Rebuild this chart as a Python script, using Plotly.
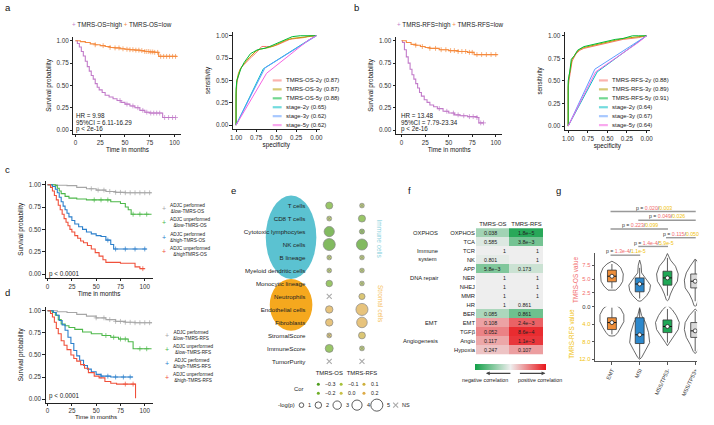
import numpy as np
import plotly.graph_objects as go

W, H = 714, 425
FONT = "Liberation Sans, Arial, sans-serif"


def PX(x):
    return x / W


def PY(y):
    return 1 - y / H


# ======================= DATA =======================
# --- a: Kaplan-Meier, TMRS-OS ---
a_high_time = [0, 2, 4, 6, 8, 10, 12, 14, 16, 18, 20, 22, 24, 27, 30, 34, 38, 42, 46, 50, 55, 60, 65, 70, 75, 80, 88, 101]
a_high_surv = [1, .97, .93, .88, .83, .77, .71, .66, .61, .57, .52, .48, .45, .42, .39, .37, .35, .33, .31, .29, .27, .25, .22, .20, .19, .19, .14, .14]
a_high_cens = [45, 52, 58, 63, 68, 72, 76, 79, 82, 85, 90, 94, 98, 101]
a_low_time = [0, 5, 10, 15, 20, 25, 30, 35, 40, 45, 50, 55, 60, 65, 70, 75, 80, 84, 102]
a_low_surv = [1, .99, .98, .965, .955, .945, .935, .925, .92, .91, .905, .9, .895, .89, .88, .875, .87, .825, .82]
a_low_cens = [20, 28, 35, 40, 44, 48, 52, 55, 58, 61, 64, 67, 70, 72, 74, 76, 78, 80, 83, 86, 89, 92, 95, 98, 101]
a_stats = ["HR = 9.98", "95%CI = 6.11-16.29", "p < 2e-16"]

# --- a: ROC ---
roc_a_labels = ["TMRS-OS-2y (0.87)", "TMRS-OS-3y (0.87)", "TMRS-OS-5y (0.88)",
                "stage-2y (0.65)", "stage-3y (0.62)", "stage-5y (0.62)"]
roc_a_spec = [
    [1, 1, .99, .97, .95, .92, .88, .84, .80, .76, .72, .68, .62, .55, .48, .40, .33, .25, .15, .08, 0],
    [1, 1, .99, .97, .94, .91, .87, .83, .79, .75, .70, .64, .58, .52, .45, .38, .30, .22, .12, .05, 0],
    [1, 1, .99, .97, .94, .90, .86, .82, .78, .74, .70, .64, .58, .50, .44, .36, .30, .20, .10, .05, 0],
    [1, .66, .08, 0],
    [1, .64, .05, 0],
    [1, .62, .10, 0],
]
roc_a_sens = [
    [0, .25, .48, .55, .62, .66, .70, .74, .77, .80, .84, .88, .88, .88, .90, .93, .96, .97, .98, 1, 1],
    [0, .35, .50, .58, .64, .68, .72, .76, .80, .83, .85, .86, .87, .89, .92, .95, .97, .98, .99, 1, 1],
    [0, .40, .50, .56, .63, .70, .75, .80, .82, .84, .85, .86, .88, .91, .94, .97, .99, 1, 1, 1, 1],
    [0, .63, .96, 1],
    [0, .64, .97, 1],
    [0, .58, .95, 1],
]

# --- b: Kaplan-Meier, TMRS-RFS ---
b_high_time = [0, 1, 3, 5, 7, 9, 11, 13, 15, 17, 19, 21, 24, 27, 30, 34, 38, 44, 50, 56, 62, 70, 80, 82, 87]
b_high_surv = [1, .98, .90, .82, .75, .68, .62, .57, .52, .47, .42, .38, .34, .31, .28, .26, .24, .21, .19, .17, .16, .15, .14, .08, .08]
b_high_cens = [40, 48, 55, 60, 66, 72, 76, 80, 84, 87]
b_low_time = [0, 5, 10, 15, 20, 25, 30, 40, 50, 60, 70, 77, 102]
b_low_surv = [1, .98, .96, .95, .935, .925, .915, .90, .89, .88, .87, .845, .845]
b_low_cens = [15, 22, 30, 36, 42, 47, 52, 56, 60, 64, 68, 72, 75, 80, 85, 90, 95, 100]
b_stats = ["HR = 13.48", "95%CI = 7.79-23.34", "p < 2e-16"]

# --- b: ROC ---
roc_b_labels = ["TMRS-RFS-2y (0.88)", "TMRS-RFS-3y (0.89)", "TMRS-RFS-5y (0.91)",
                "stage-2y (0.64)", "stage-3y (0.67)", "stage-5y (0.64)"]
roc_b_spec = [
    [1, 1, .99, .97, .95, .90, .85, .80, .70, .60, .50, .40, .30, .20, .10, 0],
    [1, 1, .99, .97, .95, .90, .85, .80, .70, .60, .50, .40, .30, .20, .10, 0],
    [1, 1, .98, .96, .92, .88, .80, .70, .60, .50, .40, .30, .22, .18, .10, 0],
    [1, .63, 0],
    [1, .66, 0],
    [1, .65, .10, 0],
]
roc_b_sens = [
    [0, .42, .50, .60, .72, .80, .84, .86, .88, .90, .92, .94, .96, .97, .98, 1],
    [0, .45, .55, .65, .74, .81, .85, .87, .89, .91, .93, .95, .97, .98, .99, 1],
    [0, .50, .60, .74, .78, .84, .88, .90, .92, .94, .96, .97, .99, 1, 1, 1],
    [0, .60, 1],
    [0, .63, 1],
    [0, .60, .93, 1],
]

# --- c / d: KM by ADJC x TMRS ---
c_labels = ["ADJC performed<br>&low-TMRS-OS", "ADJC unperformed<br>&low-TMRS-OS",
            "ADJC performed<br>&high-TMRS-OS", "ADJC unperformed<br>&highTMRS-OS"]
c_time = [
    [0, 10, 20, 30, 40, 50, 60, 70, 80, 107],
    [0, 8, 10, 12, 14, 18, 22, 30, 40, 60, 65, 75, 80, 83, 86, 107],
    [0, 5, 8, 10, 12, 14, 16, 18, 20, 22, 25, 28, 32, 36, 40, 45, 50, 55, 60, 65, 68, 102],
    [0, 3, 5, 7, 9, 11, 13, 15, 17, 19, 21, 23, 25, 28, 31, 34, 37, 41, 45, 49, 53, 57, 60, 70, 75, 90, 95, 100],
]
c_surv = [
    [1, .995, .99, .97, .955, .94, .925, .915, .91, .91],
    [1, .99, .96, .93, .90, .87, .85, .84, .83, .83, .81, .79, .75, .72, .67, .67],
    [1, .98, .95, .91, .86, .81, .76, .72, .68, .64, .60, .56, .53, .50, .47, .45, .43, .42, .38, .33, .28, .28],
    [1, .97, .93, .88, .83, .77, .72, .67, .62, .58, .54, .50, .47, .43, .40, .37, .35, .32, .28, .24, .20, .16, .13, .13, .12, .08, .06, .06],
]
c_cens = [
    [45, 52, 58, 64, 70, 75, 80, 85, 90, 95, 100, 105],
    [48, 55, 62, 88, 95, 102],
    [62, 70, 80, 90, 100],
    [98],
]
d_labels = ["ADJC performed<br>&low-TMRS-RFS", "ADJC unperformed<br>&low-TMRS-RFS",
            "ADJC performed<br>&high-TMRS-RFS", "ADJC unperformed<br>&high-TMRS-RFS"]
d_time = [
    [0, 10, 20, 30, 40, 50, 60, 70, 80, 90, 107],
    [0, 5, 8, 11, 14, 18, 22, 28, 36, 45, 56, 65, 73, 83, 88, 107],
    [0, 6, 9, 12, 15, 18, 21, 24, 27, 30, 33, 37, 41, 45, 50, 55, 65, 88],
    [0, 3, 5, 7, 9, 11, 14, 17, 20, 24, 27, 30, 34, 38, 42, 48, 53, 59, 65, 71, 90, 90.5],
]
d_surv = [
    [1, .99, .98, .96, .94, .92, .90, .88, .87, .865, .86],
    [1, .98, .95, .90, .85, .83, .81, .79, .76, .74, .72, .70, .68, .65, .57, .57],
    [1, .98, .95, .89, .84, .78, .70, .63, .55, .49, .44, .38, .34, .31, .28, .26, .25, .25],
    [1, .97, .93, .87, .80, .74, .66, .61, .56, .50, .46, .43, .39, .35, .30, .26, .24, .20, .18, .17, .17, .01],
]
d_cens = [
    [50, 58, 64, 70, 75, 80, 85, 90, 95, 100, 105],
    [60, 68, 75, 80, 95, 102],
    [55, 62, 70, 78, 85],
    [80, 88],
]
km_colors = ["#A6A6A6", "#4DB84A", "#2B7FCB", "#F0503A"]

# --- e: bubble plot ---
cells = ["T cells", "CD8 T cells", "Cytotoxic lymphocytes", "NK cells", "B lineage",
         "Myeloid dendritic cells", "Monocytic lineage", "Neutrophils", "Endothelial cells",
         "Fibroblasts", "StromalScore", "ImmuneScore", "TumorPurity"]
e_groups = ["TMRS-OS", "TMRS-RFS"]
os_cor = [-0.2, -0.1, -0.3, -0.3, -0.1, -0.1, -0.2, 0.0, 0.2, 0.2, 0.1, -0.2, 0.0]
os_lp = [2.3, 1.1, 4.0, 5.0, 1.0, 1.0, 2.0, 0, 2.5, 2.5, 1.1, 2.8, 0]
os_ns = [0, 0, 0, 0, 0, 0, 0, 1, 0, 0, 0, 0, 1]
rfs_cor = [-0.1, -0.2, -0.2, -0.3, -0.1, -0.1, -0.1, 0.1, 0.2, 0.2, 0.1, -0.1, 0.0]
rfs_lp = [1.0, 2.3, 1.25, 4.5, 1.0, 1.0, 1.0, 1.8, 5.0, 4.2, 2.2, 1.1, 0]
rfs_ns = [0, 0, 0, 0, 0, 0, 0, 0, 0, 0, 0, 0, 1]
cor_legend_vals = [[-0.3, -0.1, 0.1], [-0.2, 0.0, 0.2]]
lp_legend_vals = [1, 2, 3, 4, 5]

# --- f: heatmap ---
pathways = ["OXPHOS", "TCA", "TCR", "NK", "APP", "NER", "NHEJ", "MMR", "HR", "BER",
            "EMT", "TGFβ", "Angio", "Hypoxia"]
f_cols = ["TMRS-OS", "TMRS-RFS"]
f_os_p = ["0.038", "0.585", "1", "0.801", "5.8e-3", "1", "1", "1", "1", "0.085",
          "0.108", "0.052", "0.117", "0.247"]
f_rfs_p = ["1.8e-5", "3.8e-3", "1", "1", "0.173", "1", "1", "1", "0.861", "0.861",
           "2.4e-3", "8.6e-4", "1.1e-3", "0.107"]
f_os_cor = [-0.35, -0.08, 0, -0.04, -0.5, 0, 0, 0, 0, -0.3, 0.35, 0.5, 0.33, 0.2]
f_rfs_cor = [-0.9, -0.55, 0, 0, -0.16, 0, 0, 0, -0.02, -0.58, 0.65, 0.9, 0.85, 0.37]
f_groups = [("OXPHOS", "OXPHOS"), ("Immune<br>system", 2.5), ("DNA repair", "NER"),
            ("EMT", "EMT"), ("Angiogenesis", "Angio")]

# --- g: violins ---
g_cats = ["EMT", "MSI", "MSS/TP53-", "MSS/TP53+"]
g_fill = ["#EE8E3A", "#2D88CC", "#1FA856", "#D9D9D9"]
# TMRS-OS violin outline: values and half widths (in category units)
os_vals = [
    [8.2, 7.7, 7.0, 5.9, 4.6, 3.75, 3.0, 2.95],
    [8.4, 7.5, 6.1, 5.2, 3.9, 2.9, 2.0, 1.1, 1.0],
    [9.6, 9.0, 8.4, 7.3, 5.9, 4.6, 3.4, 2.3, 1.25, 1.1],
    [8.6, 8.2, 7.3, 6.1, 4.8, 3.4, 2.3, 1.25, 0.2, 0.1],
]
os_hw = [
    [0, .18, .32, .41, .39, .29, .14, 0],
    [0, .05, .07, .21, .39, .36, .25, .07, 0],
    [0, .05, .11, .29, .39, .36, .21, .11, .04, 0],
    [0, .07, .18, .32, .39, .36, .21, .11, .04, 0],
]
os_box = [  # whisker low, q1, median, q3, whisker high
    [3.3, 4.5, 5.5, 6.6, 7.7],
    [1.5, 2.7, 4.1, 5.2, 7.0],
    [2.0, 3.9, 5.2, 6.4, 8.8],
    [1.0, 3.4, 4.6, 5.9, 8.4],
]
rfs_vals = [
    [-0.6, -0.45, 0.45, 1.8, 3.4, 4.8, 5.9, 6.6, 6.7],
    [0.2, 1.0, 2.0, 3.6, 5.9, 8.2, 10.0, 11.6, 12.0],
    [-0.4, -0.2, 0.7, 2.0, 3.6, 5.2, 7.0, 8.2, 8.9],
    [0.5, 0.7, 2.0, 3.6, 5.2, 7.0, 8.6, 10.2, 10.7],
]
rfs_hw = [
    [0, .14, .32, .43, .43, .32, .21, .11, 0],
    [0, .04, .07, .21, .32, .36, .21, .07, 0],
    [0, .04, .18, .32, .43, .39, .21, .07, 0],
    [0, .04, .21, .36, .39, .32, .18, .07, 0],
]
rfs_box = [
    [0.2, 2.5, 3.6, 5.2, 6.3],
    [0.5, 2.5, 6.4, 8.4, 11.8],
    [0.5, 3.0, 4.5, 5.9, 8.2],
    [1.0, 3.6, 5.5, 7.0, 10.2],
]
g_pairs = [(0, 3, "0.020", "0.003"), (1, 3, "0.049", "0.026"), (0, 2, "0.223", "0.099"),
           (2, 3, "0.115", "0.050"), (1, 2, "1.4e-4", "5.9e-5"), (0, 1, "1.3e-4", "1.1e-5")]

RED_T = "#F26C6C"
YEL_T = "#F0C10C"
ROC_COLORS = ["#F8766D", "#B79F00", "#00BA38", "#00BFC4", "#619CFF", "#F564E3"]
KM_HIGH = "#C27BC9"
KM_LOW = "#F58B3F"

traces = []
annotations = []
shapes = []


def ann(x, y, text, size=6.3, color="#222", xanchor="center", yanchor="middle", xref="paper", yref="paper", **kw):
    d = dict(x=x, y=y, text=text, showarrow=False, xref=xref, yref=yref, xanchor=xanchor,
             yanchor=yanchor, font=dict(size=size, color=color, family=FONT))
    d.update(kw)
    annotations.append(d)


def km(t, s, cens, color, xa, ya):
    traces.append(go.Scatter(x=t, y=s, mode="lines", line=dict(shape="hv", color=color, width=1.1),
                             xaxis=xa, yaxis=ya, hoverinfo="skip"))
    if cens:
        ta = np.array(t)
        cy = [s[int(np.searchsorted(ta, c, side="right")) - 1] for c in cens]
        traces.append(go.Scatter(x=cens, y=cy, mode="markers",
                                 marker=dict(symbol="cross-thin", size=3.5, line=dict(color=color, width=0.7)),
                                 xaxis=xa, yaxis=ya, hoverinfo="skip"))


# ---- a & b KM ----
km(a_high_time, a_high_surv, a_high_cens, KM_HIGH, "x", "y")
km(a_low_time, a_low_surv, a_low_cens, KM_LOW, "x", "y")
km(b_high_time, b_high_surv, b_high_cens, KM_HIGH, "x3", "y3")
km(b_low_time, b_low_surv, b_low_cens, KM_LOW, "x3", "y3")
for i, s in enumerate(a_stats):
    ann(-1, 0.167 - i * 0.078, s, xanchor="left", xref="x", yref="y")
for i, s in enumerate(b_stats):
    ann(-3, 0.167 - i * 0.078, s, xanchor="left", xref="x3", yref="y3")
ann(PX(120), PY(25), f"<span style='color:{KM_HIGH}'>+</span> TMRS-OS=high <span style='color:{KM_LOW}'>+</span> TMRS-OS=low")
ann(PX(451), PY(25), f"<span style='color:{KM_HIGH}'>+</span> TMRS-RFS=high <span style='color:{KM_LOW}'>+</span> TMRS-RFS=low")

# ---- ROC ----
for k in range(6):
    traces.append(go.Scatter(x=roc_a_spec[k], y=roc_a_sens[k], mode="lines",
                             line=dict(color=ROC_COLORS[k], width=1), xaxis="x2", yaxis="y2", hoverinfo="skip"))
    traces.append(go.Scatter(x=roc_b_spec[k], y=roc_b_sens[k], mode="lines",
                             line=dict(color=ROC_COLORS[k], width=1), xaxis="x4", yaxis="y4", hoverinfo="skip"))
for k in range(6):
    yy = 81 + k * 9
    for (lx0, lab) in ((272, roc_a_labels[k]), (601, roc_b_labels[k])):
        shapes.append(dict(type="line", xref="paper", yref="paper", x0=PX(lx0), x1=PX(lx0 + 9),
                           y0=PY(yy), y1=PY(yy), line=dict(color=ROC_COLORS[k], width=2.2), opacity=0.55))
        ann(PX(lx0 + 11), PY(yy), lab, size=6.0, xanchor="left")

# ---- c / d ----
for k in range(4):
    km(c_time[k], c_surv[k], c_cens[k], km_colors[k], "x5", "y5")
    km(d_time[k], d_surv[k], d_cens[k], km_colors[k], "x6", "y6")
for k in range(4):
    yc = 210 + k * 14.5
    ann(PX(162), PY(yc), "+", size=7, color=km_colors[k])
    ann(PX(166), PY(yc), c_labels[k], size=4.7, xanchor="left", align="center")
    yd = 337.5 + k * 14.3
    ann(PX(165), PY(yd), "+", size=7, color=km_colors[k])
    ann(PX(169), PY(yd), d_labels[k], size=4.7, xanchor="left", align="center")
ann(-0.5, 0.005, "p < 0.0001", xanchor="left", xref="x5", yref="y5")
ann(-0.5, 0.03, "p < 0.0001", xanchor="left", xref="x6", yref="y6")
ann(50, PY(424.3), "Time in months", size=6.2, xref="x6", color="#111", yanchor="bottom", borderpad=0)


# ---- e: bubbles ----
E_SCALE = [[0, "#4E9D1E"], [0.2, "#6FAE27"], [0.4, "#A6C13A"], [0.6, "#C9C046"], [0.8, "#CDAF3A"], [1, "#DDAA45"]]


def lp_size(v):
    return 2.8 + 1.85 * v


for gi, (cor, lp, ns) in enumerate(((os_cor, os_lp, os_ns), (rfs_cor, rfs_lp, rfs_ns))):
    xs_sig, ys_sig, c_sig, s_sig, sym = [], [], [], [], []
    xs_ns, ys_ns = [], []
    for i, cell in enumerate(cells):
        if ns[i]:
            xs_ns.append(e_groups[gi]); ys_ns.append(cell)
        else:
            xs_sig.append(e_groups[gi]); ys_sig.append(cell)
            c_sig.append(cor[i]); s_sig.append(lp_size(lp[i]))
            sym.append("circle-x" if lp[i] < 1.3 else "circle")
    traces.append(go.Scatter(x=xs_sig, y=ys_sig, mode="markers", xaxis="x7", yaxis="y7", hoverinfo="skip",
                             marker=dict(color=c_sig, colorscale=E_SCALE, cmin=-0.3, cmax=0.2, size=s_sig,
                                         symbol=sym, line=dict(color="#555", width=0.7))))
    traces.append(go.Scatter(x=xs_ns, y=ys_ns, mode="markers", xaxis="x7", yaxis="y7", hoverinfo="skip",
                             marker=dict(symbol="x-thin", size=5, line=dict(color="#AAAAAA", width=1.1))))

# ellipses
shapes.append(dict(type="circle", xref="paper", yref="paper", x0=PX(265), x1=PX(316), y0=PY(281), y1=PY(197),
                   fillcolor="#5BC2D1", line=dict(width=0), layer="below"))
shapes.append(dict(type="circle", xref="paper", yref="paper", x0=PX(269), x1=PX(312), y0=PY(333), y1=PY(281),
                   fillcolor="#F5A81E", line=dict(width=0), layer="below"))
ann(PX(380), PY(241), "Immune cells", size=6.5, color="#8DD3E0", textangle=90)
ann(PX(380), PY(306), "Stromal cells", size=6.5, color="#F6C25E", textangle=90)

# cor legend (overlay canvas x11/y11)
ann(PX(305), PY(391.5), "Cor", size=5.8, xanchor="right")
for r, row in enumerate(cor_legend_vals):
    for cidx, v in enumerate(row):
        xx = 318 + cidx * 23
        yy = 387 + r * 9
        traces.append(go.Scatter(x=[xx], y=[yy], mode="markers", xaxis="x11", yaxis="y11", hoverinfo="skip",
                                 marker=dict(size=3, color=[v], colorscale=E_SCALE, cmin=-0.3, cmax=0.2,
                                             line=dict(width=0))))
        ann(PX(xx + 5), PY(yy), ("−" if v < 0 else "") + f"{abs(v):.1f}", size=5.3, xanchor="left")
ann(PX(296), PY(408), "-log(p)", size=5.8, xanchor="right")
lx = [301, 318, 337, 357, 377]
for v, xx in zip(lp_legend_vals, lx):
    traces.append(go.Scatter(x=[xx], y=[408], mode="markers", xaxis="x11", yaxis="y11", hoverinfo="skip",
                             marker=dict(size=lp_size(v), color="white", line=dict(color="#333", width=0.8))))
    ann(PX(xx + lp_size(v) / 2 + 2.5), PY(408), str(v), size=5.5, xanchor="left")
traces.append(go.Scatter(x=[396], y=[408], mode="markers", xaxis="x11", yaxis="y11", hoverinfo="skip",
                         marker=dict(symbol="x-thin", size=5, line=dict(color="#AAAAAA", width=1.1))))
ann(PX(400), PY(408), "NS", size=5.5, xanchor="left")

# ---- f: heatmap ----
zf = [[f_os_cor[i], f_rfs_cor[i]] for i in range(len(pathways))]
traces.append(go.Heatmap(z=zf, x=f_cols, y=pathways, xaxis="x8", yaxis="y8", zmin=-1, zmax=1,
                         colorscale=[[0, "#12A048"], [0.5, "#EEEEEE"], [1, "#E8161B"]], hoverinfo="skip",
                         colorbar=dict(orientation="h", x=PX(512), xanchor="center", y=PY(369.5), yanchor="middle",
                                       len=71, lenmode="pixels", thickness=6, thicknessmode="pixels",
                                       showticklabels=False, ticks="", outlinewidth=0, xpad=0, ypad=0)))
for i, pw in enumerate(pathways):
    for j, txt in enumerate((f_os_p[i], f_rfs_p[i])):
        if txt == "1":
            ann(j + 0.5, pw, txt, size=5.3, xanchor="right", xref="x8", yref="y8", xshift=-2)
        else:
            ann(j - 0.5, pw, txt.replace("-", "−"), size=5.3, xanchor="left", xref="x8", yref="y8", xshift=6)
for lab, ypos in f_groups:
    ann(PX(441), ypos, lab, size=5.8, xanchor="right", yref="y8", align="center")
annotations.append(dict(x=PX(487), y=PY(376), xref="paper", yref="paper", ax=26, ay=0, text="", showarrow=True,
                        arrowhead=2, arrowsize=0.7, arrowwidth=1.1, arrowcolor="#444"))
annotations.append(dict(x=PX(547), y=PY(376), xref="paper", yref="paper", ax=-27, ay=0, text="", showarrow=True,
                        arrowhead=2, arrowsize=0.7, arrowwidth=1.1, arrowcolor="#444"))
ann(PX(486), PY(382.5), "negative correlation", size=5.3)
ann(PX(542), PY(382.5), "positive correlation", size=5.3)


# ---- g: violins ----
def violin(vals, hw, box, cidx, ya):
    c = cidx
    xs = [c + h for h in hw] + [c - h for h in hw[::-1]]
    ys = list(vals) + list(vals[::-1])
    traces.append(go.Scatter(x=xs, y=ys, mode="lines", fill="toself", fillcolor="white",
                             line=dict(color="#444", width=0.8), xaxis="x9", yaxis=ya, hoverinfo="skip"))
    wl, q1, md, q3, wh = box
    traces.append(go.Scatter(x=[c, c, None, c, c], y=[wl, q1, None, q3, wh], mode="lines",
                             line=dict(color="#333", width=0.8), xaxis="x9", yaxis=ya, hoverinfo="skip"))
    bw = 0.16
    traces.append(go.Scatter(x=[c - bw, c + bw, c + bw, c - bw, c - bw], y=[q1, q1, q3, q3, q1], mode="lines",
                             fill="toself", fillcolor=g_fill[cidx], line=dict(color="#333", width=0.8),
                             xaxis="x9", yaxis=ya, hoverinfo="skip"))
    traces.append(go.Scatter(x=[c - bw, c + bw], y=[md, md], mode="lines", line=dict(color="#111", width=1),
                             xaxis="x9", yaxis=ya, hoverinfo="skip"))
    traces.append(go.Scatter(x=[c], y=[md], mode="markers", xaxis="x9", yaxis=ya, hoverinfo="skip",
                             marker=dict(size=4, color="white", line=dict(color="#222", width=0.8))))


for k in range(4):
    violin(os_vals[k], os_hw[k], os_box[k], k, "y9")
    violin(rfs_vals[k], rfs_hw[k], rfs_box[k], k, "y10")

for lvl, (i0, i1, p1, p2) in enumerate(g_pairs):
    yy = 213 + lvl * 8.8
    shapes.append(dict(type="line", xref="x9", yref="paper", x0=i0 - 0.05, x1=i1 + 0.02, y0=PY(yy), y1=PY(yy),
                       line=dict(color="#999999", width=1.4)))
    ann((i0 + i1) / 2, PY(yy - 3.8), f"p = <span style='color:{RED_T}'>{p1}</span>/<span style='color:{YEL_T}'>{p2}</span>",
        size=5.2, xref="x9", color="#333")

# ---- panel letters ----
for L, x, y in (("a", 5, 8), ("b", 356, 8), ("c", 5, 171), ("d", 5, 295), ("e", 232, 192), ("f", 410, 192), ("g", 560, 192)):
    ann(PX(x), PY(y), L, size=9.5, color="#111")

# ======================= LAYOUT =======================
BASE = dict(showline=True, linecolor="#222", linewidth=0.8, ticks="outside", ticklen=2.5, tickwidth=0.8,
            tickcolor="#222", showgrid=False, zeroline=False, tickfont=dict(size=6.3, color="#333", family=FONT))


def axis(domain, rng, anchor, tickvals=None, ticktext=None, title=None, standoff=3, tcolor="#111", **kw):
    d = dict(BASE)
    d.update(domain=domain, range=rng, anchor=anchor)
    if tickvals is not None:
        d.update(tickmode="array", tickvals=tickvals)
    if ticktext is not None:
        d["ticktext"] = ticktext
    if title:
        d["title"] = dict(text=title, font=dict(size=6.3, color=tcolor, family=FONT), standoff=standoff)
    d.update(kw)
    return d


surv_ticks = [0, .25, .5, .75, 1]
surv_txt = ["0.00", "0.25", "0.50", "0.75", "1.00"]
t_ticks = [0, 25, 50, 75, 100]
roc_ticks = [1, .75, .5, .25, 0]
roc_txt = ["1.00", "0.75", "0.50", "0.25", "0.00"]

layout = dict(
    width=W, height=H, autosize=False, margin=dict(l=0, r=0, t=0, b=0),
    paper_bgcolor="white", plot_bgcolor="rgba(0,0,0,0)", showlegend=False,
    font=dict(family=FONT, size=6.3, color="#222"),
    xaxis=axis([PX(71), PX(180)], [-2, 107], "y", t_ticks, None, "Time in months", 1),
    yaxis=axis([PY(135), PY(37)], [-0.045, 1.045], "x", surv_ticks, surv_txt, "Survival probability", 4),
    xaxis2=axis([PX(231.8), PX(319.2)], [1.04, -0.04], "y2", roc_ticks, roc_txt, "specificity", 1),
    yaxis2=axis([PY(129.6), PY(32.4)], [-0.04, 1.04], "x2", roc_ticks, roc_txt, "sensitivity", 4),
    xaxis3=axis([PX(396.3), PX(503.6)], [-6, 107], "y3", t_ticks, None, "Time in months", 1),
    yaxis3=axis([PY(135), PY(37)], [-0.045, 1.045], "x3", surv_ticks, surv_txt, "Survival probability", 4),
    xaxis4=axis([PX(566.8), PX(652.2)], [1.04, -0.04], "y4", roc_ticks, roc_txt, "specificity", 1),
    yaxis4=axis([PY(130.6), PY(32.4)], [-0.04, 1.04], "x4", roc_ticks, roc_txt, "sensitivity", 4),
    xaxis5=axis([PX(43), PX(150.8)], [-2, 108], "y5", t_ticks, None, "Time in months", 1),
    yaxis5=axis([PY(280), PY(182)], [-0.045, 1.045], "x5", surv_ticks, surv_txt, "Survival probability", 4),
    xaxis6=axis([PX(43), PX(150.8)], [-2, 108], "y6", t_ticks, None, None, ticklen=2),
    yaxis6=axis([PY(405.5), PY(309)], [-0.04, 1.045], "x6", surv_ticks, surv_txt, "Survival probability", 4),
    xaxis7=dict(domain=[PX(306), PX(378.5)], range=[-0.697, 1.5], anchor="y7", type="category",
                categoryorder="array", categoryarray=e_groups, showline=False, ticks="", showgrid=False,
                zeroline=False, tickfont=dict(size=5.9, color="#222", family=FONT)),
    yaxis7=dict(domain=[PY(370.5), PY(200.5)], range=[12.5, -0.5], anchor="x7", type="category",
                categoryorder="array", categoryarray=cells, showline=False, ticks="", showgrid=False,
                zeroline=False, tickfont=dict(size=6.2, color="#222", family=FONT)),
    xaxis8=dict(domain=[PX(477), PX(545)], anchor="y8", side="top", showline=False, ticks="", showgrid=False,
                zeroline=False, tickfont=dict(size=5.9, color="#222", family=FONT)),
    yaxis8=dict(domain=[PY(357.6), PY(229.4)], anchor="x8", autorange="reversed", showline=False, ticks="",
                showgrid=False, zeroline=False, tickfont=dict(size=5.8, color="#222", family=FONT)),
    xaxis9=axis([PX(597), PX(700)], [-0.61, 3.07], "y10", [0, 1, 2, 3], g_cats, None, tickangle=-65,
                linecolor="#555", tickcolor="#555", tickfont=dict(size=5.5, color="#333", family=FONT)),
    yaxis9=axis([PY(309), PY(255)], [0, 9.64], "x9", [0, 2.5, 5, 7.5],
                ["<span style='color:#333'>0.0</span>", "2.5", "5.0", "7.5"], "TMRS-OS value", 3, RED_T,
                linecolor="#555", tickcolor="#555", tickfont=dict(size=5.8, color=RED_T, family=FONT)),
    yaxis10=axis([PY(364), PY(309)], [12.5, 0], "x9", [4, 8, 12], ["4.0", "8.0", "12.0"], "TMRS-RFS value", 3, YEL_T,
                 linecolor="#555", tickcolor="#555", tickfont=dict(size=5.8, color=YEL_T, family=FONT)),
    xaxis11=dict(domain=[0, 1], range=[0, W], anchor="y11", visible=False, fixedrange=True),
    yaxis11=dict(domain=[0, 1], range=[H, 0], anchor="x11", visible=False, fixedrange=True),
    annotations=annotations,
    shapes=shapes,
)

fig = go.Figure(data=traces, layout=layout)
# remove the browser's default 8px body margin so the 714x425 figure fills the window exactly
fig.write_html("out.html", config={"displayModeBar": False},
               post_script="document.body.style.margin='0px';document.body.style.overflow='hidden';")
